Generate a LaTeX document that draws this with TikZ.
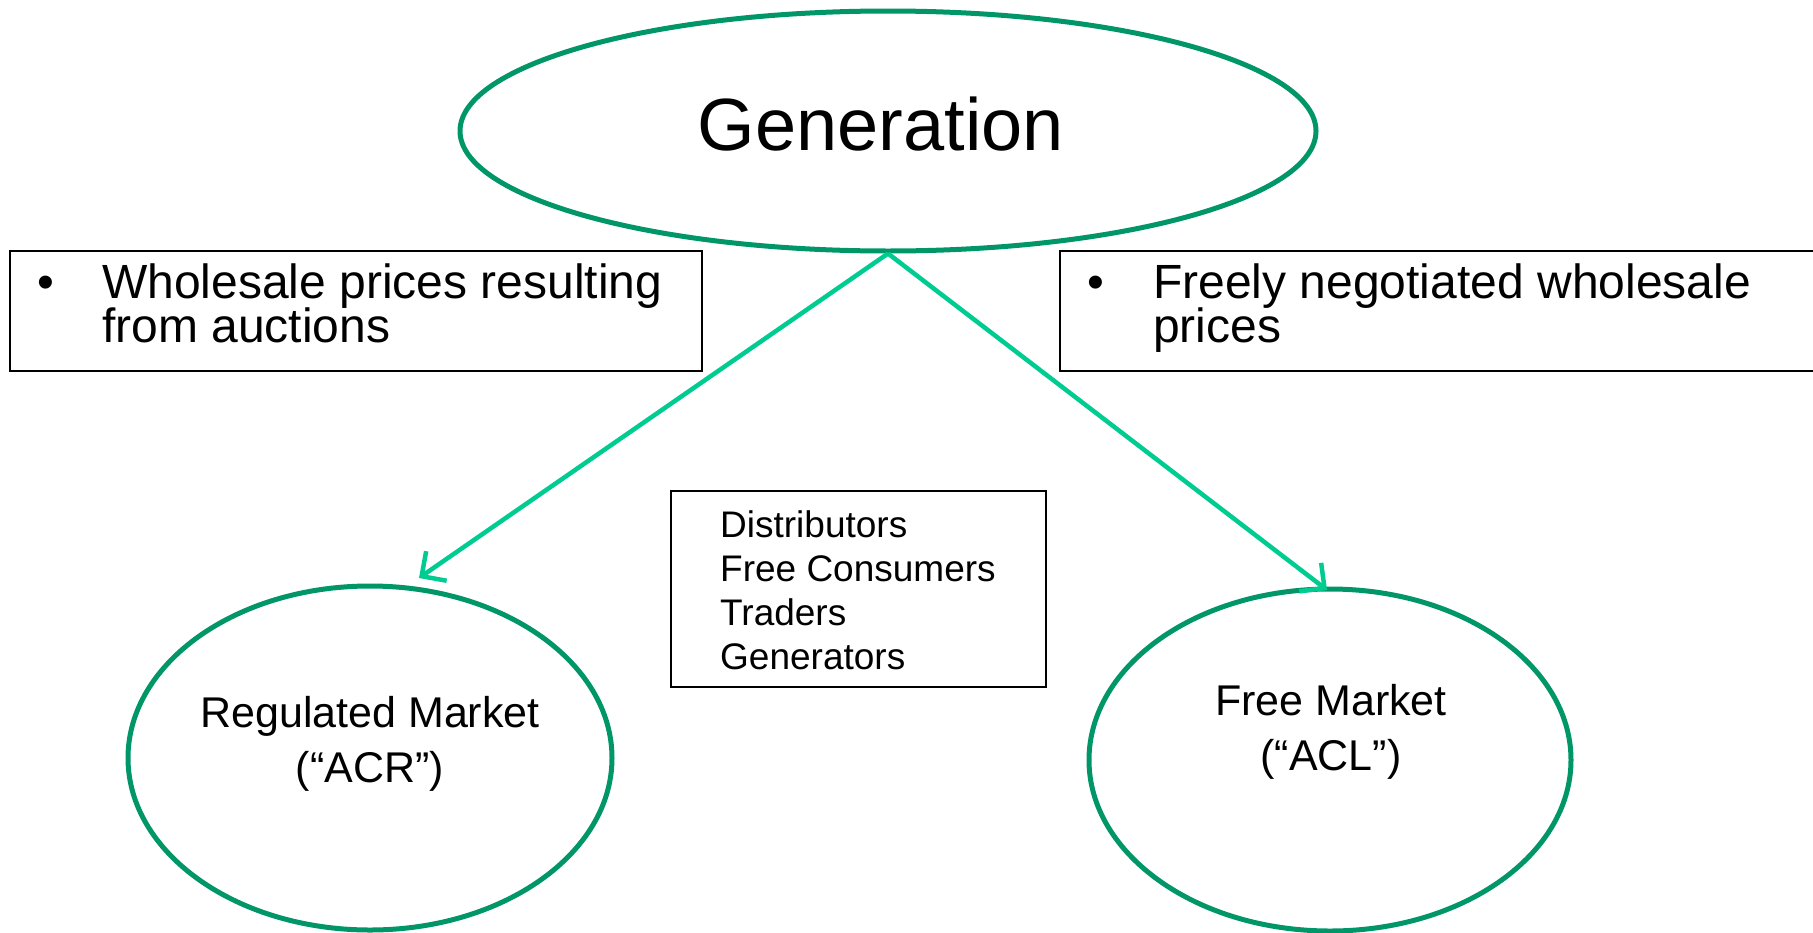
\documentclass[tikz,border=0pt]{standalone}
\usepackage{fontspec}
\setmainfont{Liberation Sans}
\usetikzlibrary{arrows.meta,shapes.geometric}
\definecolor{ellgreen}{RGB}{0,150,104}
\definecolor{arrgreen}{RGB}{0,204,146}
\begin{document}
\begin{tikzpicture}[x=1pt,y=-1pt,
  oval/.style={draw=ellgreen,line width=5pt,ellipse,inner sep=0pt},
  infobox/.style={draw=black,line width=1.5pt,rectangle,inner sep=0pt},
  flow/.style={draw=arrgreen,line width=4.5pt,-{Straight Barb[length=18pt,width=36pt,line width=4.5pt]}},
  big/.style={anchor=base,inner sep=0pt,font=\fontsize{74}{80}\selectfont},
  boxtxt/.style={anchor=base west,inner sep=0pt,font=\fontsize{48}{42}\selectfont},
  listtxt/.style={anchor=base west,inner sep=0pt,font=\fontsize{37}{44}\selectfont},
  mkttxt/.style={anchor=base,inner sep=0pt,font=\fontsize{43}{52}\selectfont},
]
\useasboundingbox (0,0) rectangle (1813,932);
% ellipses
\node[oval,minimum width=856pt,minimum height=240pt] (gen) at (888,131) {};
\node[oval,minimum width=484pt,minimum height=344pt] (acr) at (370,758) {};
\node[oval,minimum width=482pt,minimum height=342pt] (acl) at (1330,760) {};
% boxes
\node[infobox,minimum width=692pt,minimum height=120pt] (lbox) at (356,311) {};
\node[infobox,minimum width=755pt,minimum height=120pt] (rbox) at (1437.5,311) {};
\node[infobox,minimum width=375pt,minimum height=196pt] (cbox) at (858.5,589) {};
% texts
\node[big] (gent) at (881,150) {Generation};
\node[boxtxt] (lb1) at (37,298) {•};
\node[boxtxt] (lt1) at (102,298) {Wholesale prices resulting};
\node[boxtxt] (lt2) at (102,342) {from auctions};
\node[boxtxt] (rb1) at (1087,298) {•};
\node[boxtxt] (rt1) at (1153,298) {Freely negotiated wholesale};
\node[boxtxt] (rt2) at (1153,342) {prices};
\node[listtxt] (c1) at (720,537) {Distributors};
\node[listtxt] (c2) at (720,581) {Free Consumers};
\node[listtxt] (c3) at (720,625) {Traders};
\node[listtxt] (c4) at (720,669) {Generators};
\node[mkttxt] (acr1) at (370,727) {Regulated Market};
\node[mkttxt] (acr2) at (370,782) {(“ACR”)};
\node[mkttxt] (acl1) at (1331,715) {Free Market};
\node[mkttxt] (acl2) at (1331,770) {(“ACL”)};
% connectors
\coordinate (tipL) at (419,578);
\coordinate (tipR) at (1327,590);
\draw[flow] (gen.south) -- (tipL);
\draw[flow] (gen.south) -- (tipR);
\end{tikzpicture}
\end{document}
